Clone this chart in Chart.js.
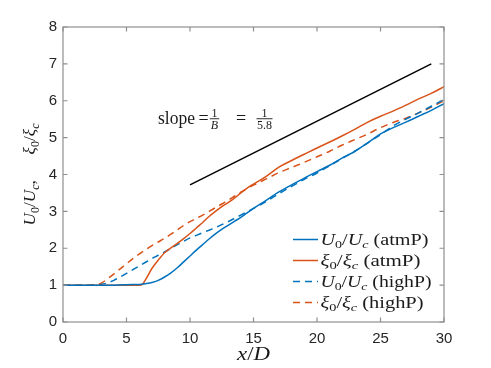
<!DOCTYPE html>
<html><head><meta charset="utf-8">
<script src="https://cdn.jsdelivr.net/npm/chart.js@4"></script>
<style>html,body{margin:0;padding:0;background:#fff;}canvas{display:block;}</style>
</head><body>
<canvas id="c" width="491" height="368"></canvas>
<script>
// ---- data ----
const xD = [0,1,2,2.5,3,3.5,4,4.5,5,5.5,6,6.25,6.5,7,7.5,8,8.5,9,9.5,10,10.5,11,11.5,12,12.5,13,13.5,14,14.5,15,16,17,18,19,20,21,22,23,24,25,26,27,28,29,30];
const U_atmP  = [1,1,1,1,1,1,1,1.005,1.01,1.015,1.02,1.03,1.04,1.07,1.13,1.22,1.33,1.47,1.63,1.79,1.95,2.1,2.25,2.39,2.51,2.62,2.73,2.84,2.96,3.08,3.3,3.53,3.72,3.9,4.08,4.25,4.45,4.63,4.86,5.1,5.27,5.42,5.58,5.74,5.92];
const xi_atmP = [1,1,1,1,1,1,1,1,1,1,1,1.02,1.15,1.45,1.68,1.88,2.01,2.13,2.26,2.4,2.55,2.7,2.86,3.0,3.13,3.24,3.36,3.5,3.63,3.74,3.95,4.2,4.38,4.55,4.72,4.88,5.05,5.23,5.42,5.58,5.72,5.88,6.05,6.2,6.38];
const U_highP = [1,1,1,1,1.02,1.06,1.13,1.22,1.32,1.42,1.52,1.57,1.62,1.72,1.81,1.9,2.0,2.1,2.19,2.28,2.35,2.42,2.49,2.56,2.64,2.72,2.81,2.9,2.99,3.08,3.27,3.48,3.68,3.87,4.04,4.24,4.44,4.64,4.86,5.08,5.32,5.5,5.67,5.85,6.03];
const xi_highP= [1,1,1,1.01,1.05,1.17,1.3,1.44,1.58,1.72,1.84,1.9,1.96,2.07,2.17,2.27,2.38,2.5,2.62,2.72,2.81,2.9,3.0,3.1,3.2,3.3,3.41,3.52,3.62,3.71,3.88,4.05,4.19,4.33,4.48,4.63,4.8,4.95,5.1,5.27,5.41,5.53,5.67,5.83,6.0];
const slopeX = [10, 29];
const slopeY = [3.72, 7.0];
const xTicks = [0,5,10,15,20,25,30];
const yTicks = [0,1,2,3,4,5,6,7,8];
const legendLabels = [
  [['U',1],['0',0,1],['/',0],['U',1],['c',1,1],[' (atmP)',0]],
  [['ξ',1],['0',0,1],['/',0],['ξ',1],['c',1,1],[' (atmP)',0]],
  [['U',1],['0',0,1],['/',0],['U',1],['c',1,1],[' (highP)',0]],
  [['ξ',1],['0',0,1],['/',0],['ξ',1],['c',1,1],[' (highP)',0]]
];
const yTitle = [['U',1],['0',0,1],['/',0],['U',1],['c',1,1],[',',0],['\u2003\u2002',0],['ξ',1],['0',0,1],['/',0],['ξ',1],['c',1,1]];
const xTitle = [['x',1],['/',0],['D',1]];

const BLUE = '#0072BD', ORANGE = '#D95319';
const SERIF = '"Liberation Serif", "DejaVu Serif", serif';
const pts = (xs, ys) => xs.map((x, i) => ({x, y: ys[i]}));

function runs(ctx, parts, x, y, size, draw) {
  let cx = x;
  for (const p of parts) {
    const sub = p[2] === 1;
    const s = sub ? size * 0.7 : size;
    ctx.font = (p[1] ? 'italic ' : '') + s.toFixed(2) + 'px ' + SERIF;
    if (draw) ctx.fillText(p[0], cx, y + (sub ? size * 0.22 : 0));
    cx += ctx.measureText(p[0]).width;
  }
  return cx - x;
}
// draw at a fixed font size, stretched horizontally to a target width
function drawStretched(ctx, parts, x, y, size, target, centered) {
  const w = runs(ctx, parts, 0, 0, size, false);
  const k = target / w;
  ctx.save();
  ctx.translate(centered ? x - target / 2 : x, y);
  ctx.scale(k, 1);
  runs(ctx, parts, 0, 0, size, true);
  ctx.restore();
}

const matlabPlugin = {
  id: 'matlab',
  afterDatasetsDraw(chart) {
    const {ctx, chartArea: a, scales: {x, y}} = chart;
    ctx.save();
    // frame + inward ticks
    ctx.strokeStyle = '#8f8f8f'; ctx.lineWidth = 1.2;
    ctx.strokeRect(a.left, a.top, a.right - a.left, a.bottom - a.top);
    const tl = 4.5;
    ctx.beginPath();
    xTicks.forEach(v => { const p = x.getPixelForValue(v);
      ctx.moveTo(p, a.bottom); ctx.lineTo(p, a.bottom - tl);
      ctx.moveTo(p, a.top); ctx.lineTo(p, a.top + tl); });
    yTicks.forEach(v => { const p = y.getPixelForValue(v);
      ctx.moveTo(a.left, p); ctx.lineTo(a.left + tl, p);
      ctx.moveTo(a.right, p); ctx.lineTo(a.right - tl, p); });
    ctx.stroke();

    ctx.fillStyle = '#1a1a1a';
    ctx.textBaseline = 'alphabetic'; ctx.textAlign = 'left';
    // x title
    drawStretched(ctx, xTitle, (a.left + a.right) / 2, 360, 18, 33, true);
    // y title
    ctx.save();
    ctx.translate(35, (a.top + a.bottom) / 2);
    ctx.rotate(-Math.PI / 2);
    drawStretched(ctx, yTitle, 0, 0, 17, 102, true);
    ctx.restore();

    // slope annotation
    const bx = x.getPixelForValue(7.48), by = y.getPixelForValue(5.38);
    ctx.font = '18px ' + SERIF;
    const sw = ctx.measureText('slope').width;
    ctx.save(); ctx.translate(bx, by); ctx.scale(37 / sw, 1);
    ctx.fillText('slope', 0, 0); ctx.restore();
    ctx.textAlign = 'center';
    ctx.font = '18px ' + SERIF;
    ctx.fillText('=', bx + 45.5, by);
    ctx.fillText('=', bx + 83, by);
    const frac = (cx, num, den, denIt, bw) => {
      ctx.font = '12px ' + SERIF; ctx.fillText(num, cx, by - 7);
      ctx.font = (denIt ? 'italic ' : '') + '12px ' + SERIF; ctx.fillText(den, cx, by + 5.5);
      ctx.fillRect(cx - bw / 2, by - 5.3, bw, 0.9);
    };
    frac(bx + 56.5, '1', 'B', true, 9.5);
    frac(bx + 106.5, '1', '5.8', false, 16);

    // legend
    ctx.textAlign = 'left';
    const rows = [239.5, 260.5, 281.5, 302.5];
    const widths = [108, 100, 111, 103];
    chart.data.datasets.slice(0, 4).forEach((ds, i) => {
      ctx.save();
      ctx.strokeStyle = ds.borderColor; ctx.lineWidth = ds.borderWidth;
      ctx.setLineDash(ds.borderDash || []);
      ctx.beginPath(); ctx.moveTo(293, rows[i]); ctx.lineTo(318, rows[i]); ctx.stroke();
      ctx.restore();
      ctx.fillStyle = '#1a1a1a';
      drawStretched(ctx, legendLabels[i], 320.5, rows[i] + 5, 16, widths[i], false);
    });
    ctx.restore();
  }
};

new Chart(document.getElementById('c'), {
  type: 'line',
  data: {
    datasets: [
      {data: pts(xD, U_atmP), borderColor: BLUE, borderWidth: 1.5},
      {data: pts(xD, xi_atmP), borderColor: ORANGE, borderWidth: 1.5},
      {data: pts(xD, U_highP), borderColor: BLUE, borderWidth: 1.5, borderDash: [7, 5]},
      {data: pts(xD, xi_highP), borderColor: ORANGE, borderWidth: 1.5, borderDash: [7, 5]},
      {data: pts(slopeX, slopeY), borderColor: '#000', borderWidth: 1.5}
    ]
  },
  options: {
    responsive: false, animation: false, devicePixelRatio: 1,
    layout: {padding: {top: 27, right: 47, left: 0, bottom: 0}},
    elements: {point: {radius: 0}, line: {tension: 0.3, cubicInterpolationMode: 'monotone'}},
    plugins: {legend: {display: false}, tooltip: {enabled: false}},
    scales: {
      x: {type: 'linear', min: 0, max: 30,
        afterBuildTicks: sc => { sc.ticks = xTicks.map(v => ({value: v})); },
        afterFit: sc => { sc.height = 46; },
        grid: {display: false, drawTicks: false}, border: {display: false},
        ticks: {color: '#262626', padding: 8, maxRotation: 0, font: {family: '"Liberation Sans", Arial, sans-serif', size: 15}}},
      y: {type: 'linear', min: 0, max: 8,
        afterBuildTicks: sc => { sc.ticks = yTicks.map(v => ({value: v})); },
        afterFit: sc => { sc.width = 63; },
        grid: {display: false, drawTicks: false}, border: {display: false},
        ticks: {color: '#262626', padding: 6, font: {family: '"Liberation Sans", Arial, sans-serif', size: 15}}}
    }
  },
  plugins: [matlabPlugin]
});
</script>
</body></html>
